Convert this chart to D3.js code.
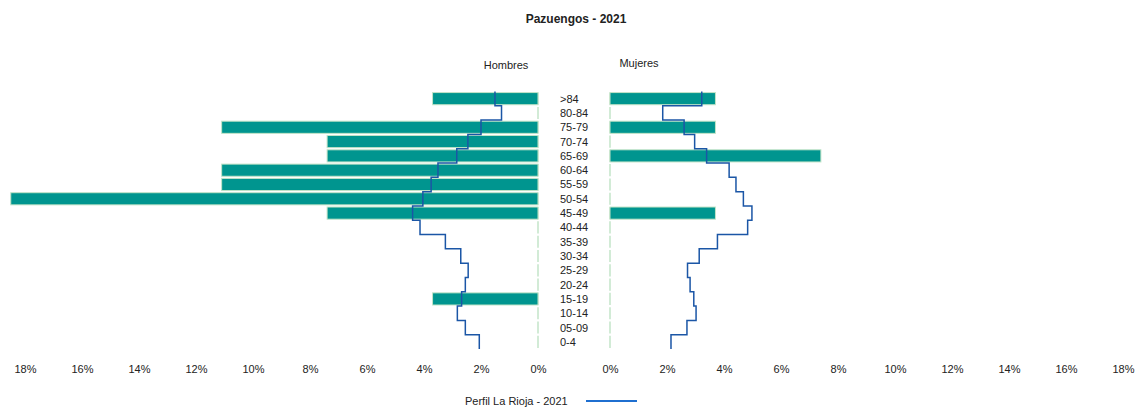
<!DOCTYPE html>
<html>
<head>
<meta charset="utf-8">
<script src="https://cdn.jsdelivr.net/npm/d3@7"></script>
<style>
    body { margin: 0; background: #fff; }
    svg text { font-family: "Liberation Sans", Arial, sans-serif; fill: #222; }
    .tick text { font-family: "Liberation Sans Narrow", "Liberation Sans", Arial, sans-serif; font-size: 11px; }
</style>
</head>
<body>
<div id="chart"></div>
<script>
// age groups, top to bottom
const ages = [">84", "80-84", "75-79", "70-74", "65-69", "60-64", "55-59", "50-54", "45-49",
    "40-44", "35-39", "30-34", "25-29", "20-24", "15-19", "10-14", "05-09", "0-4"];

// Pazuengos 2021, % of population
const hombres = [3.7, 0, 11.1, 7.4, 7.4, 11.1, 11.1, 18.5, 7.4, 0, 0, 0, 0, 0, 3.7, 0, 0, 0];
const mujeres = [3.7, 0, 3.7, 0, 7.4, 0, 0, 0, 3.7, 0, 0, 0, 0, 0, 0, 0, 0, 0];

// Perfil La Rioja 2021
const riojaHombres = [1.51, 1.28, 2.0, 2.46, 2.85, 3.51, 3.75, 4.04, 4.4, 4.14, 3.25, 2.71, 2.45, 2.55, 2.68, 2.83, 2.55, 2.06];
const riojaMujeres = [3.22, 1.85, 2.6, 2.97, 3.39, 4.18, 4.42, 4.68, 4.98, 4.83, 3.77, 3.13, 2.72, 2.81, 2.94, 3.02, 2.70, 2.14];

const tickValues = [0, 2, 4, 6, 8, 10, 12, 14, 16, 18];

const width = 1138, height = 408;
const barColor = "#00958f", barStroke = "#c3e4c8", lineColor = "#1b56a6";

var svg = d3.select("#chart").append("svg")
    .attr("width", width)
    .attr("height", height);

var xLeft = d3.scaleLinear().domain([0, 18]).range([538, 25]);
var xRight = d3.scaleLinear().domain([0, 18]).range([610, 1123]);

var yScale = d3.scaleBand()
    .domain(ages)
    .range([91.5, 349])
    .paddingInner(0.15)
    .paddingOuter(0.075);

// band without padding, for the step line
var yStep = d3.scaleBand().domain(ages).range([91.5, 349]);

svg.append("text")
    .attr("x", 576).attr("y", 23)
    .attr("text-anchor", "middle")
    .style("font-size", "12px").style("font-weight", "bold")
    .text("Pazuengos - 2021");

svg.append("text").attr("x", 506).attr("y", 69)
    .attr("text-anchor", "middle").style("font-size", "11px").text("Hombres");
svg.append("text").attr("x", 639).attr("y", 67)
    .attr("text-anchor", "middle").style("font-size", "11px").text("Mujeres");

function drawSide(values, xs, left) {
    var g = svg.append("g");
    // light marks at 0 (visible where value is 0)
    g.selectAll("line")
        .data(values)
        .enter().append("line")
        .attr("x1", xs(0)).attr("x2", xs(0))
        .attr("y1", function (d, i) { return yScale(ages[i]); })
        .attr("y2", function (d, i) { return yScale(ages[i]) + yScale.bandwidth(); })
        .attr("stroke", barStroke)
        .attr("stroke-width", 1.5);

    g.selectAll("rect")
        .data(values)
        .enter().append("rect")
        .attr("x", function (d) { return left ? xs(d) : xs(0); })
        .attr("y", function (d, i) { return yScale(ages[i]); })
        .attr("width", function (d) { return Math.abs(xs(d) - xs(0)); })
        .attr("height", yScale.bandwidth())
        .attr("fill", barColor)
        .attr("stroke", barStroke)
        .attr("stroke-width", 1);
}

function drawStep(values, xs) {
    var pts = [];
    values.forEach(function (v, i) {
        var y0 = yStep(ages[i]);
        pts.push([xs(v), y0]);
        pts.push([xs(v), y0 + yStep.bandwidth()]);
    });
    svg.append("path")
        .datum(pts)
        .attr("fill", "none")
        .attr("stroke", lineColor)
        .attr("stroke-width", 1.5)
        .attr("d", d3.line().curve(d3.curveLinear));
}

drawSide(hombres, xLeft, true);
drawSide(mujeres, xRight, false);
drawStep(riojaHombres, xLeft);
drawStep(riojaMujeres, xRight);

// age labels
svg.append("g").selectAll("text")
    .data(ages)
    .enter().append("text")
    .attr("x", 560)
    .attr("y", function (d) { return yStep(d) + yStep.bandwidth() / 2 + 4; })
    .style("font-size", "11px")
    .text(function (d) { return d; });

// axes
var fmt = function (d) { return d + "%"; };
[xLeft, xRight].forEach(function (xs) {
    var g = svg.append("g")
        .attr("transform", "translate(0,362)")
        .call(d3.axisBottom(xs).tickValues(tickValues).tickSize(0).tickFormat(fmt));
    g.select(".domain").remove();
    g.selectAll(".tick text").attr("fill", "#222");
});

// legend
svg.append("text").attr("x", 465).attr("y", 405)
    .style("font-size", "11px").text("Perfil La Rioja - 2021");
svg.append("line")
    .attr("x1", 586).attr("x2", 637).attr("y1", 401).attr("y2", 401)
    .attr("stroke", "#1f6fd0").attr("stroke-width", 2);
</script>
</body>
</html>
